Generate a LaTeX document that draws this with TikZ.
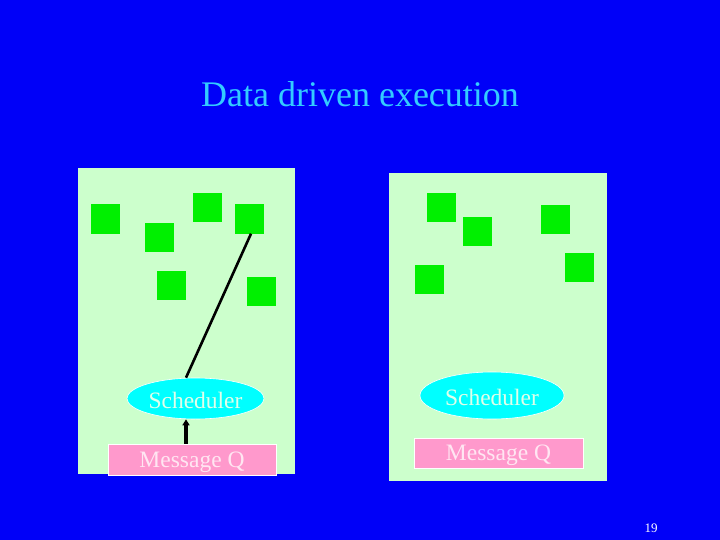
\documentclass[tikz,border=0pt]{standalone}
\usepackage{fontspec}
\setmainfont{Liberation Serif}
\usetikzlibrary{shapes.geometric,arrows.meta}
\definecolor{bgblue}{HTML}{0000F8}
\definecolor{panelgreen}{HTML}{CCFFCC}
\definecolor{sqgreen}{HTML}{00F000}
\definecolor{schedcyan}{HTML}{00FFFF}
\definecolor{msgpink}{HTML}{FF99CC}
\definecolor{titlecyan}{HTML}{33CCFF}
\definecolor{schedtext}{HTML}{E0FFEA}
\definecolor{msgtext}{HTML}{FFE6F2}
\tikzset{
  panel/.style={fill=panelgreen, draw=none},
  sq/.style={fill=sqgreen, draw=none, minimum width=29pt, minimum height=29pt, inner sep=0pt},
  sched/.style={ellipse, fill=schedcyan, draw=white, line width=0.6pt, inner sep=0pt, text height=19pt, text depth=0pt, text=schedtext, font=\fontsize{23.5}{26}\selectfont},
  msgq/.style={rectangle, fill=msgpink, draw=white, line width=0.6pt, inner sep=0pt, text height=16pt, text depth=0pt, text=msgtext, font=\fontsize{23.5}{26}\selectfont},
  conn/.style={draw=black, line width=2.6pt},
  arr/.style={draw=black, line width=3.6pt, -{Triangle[length=6pt,width=7pt]}}
}
\begin{document}
\begin{tikzpicture}[x=1pt,y=-1pt]
\fill[bgblue] (0,0) rectangle (720,540);
\useasboundingbox (0,0) rectangle (720,540);
\node[text=titlecyan, font=\fontsize{36}{40}\selectfont] (title) at (360,94) {Data driven execution};
% left panel
\node[panel, minimum width=217pt, minimum height=306pt, inner sep=0pt] (lp) at (186.5,321) {};
\node[sq] (l1) at (105.5,219) {};
\node[sq] (l2) at (159.5,237.5) {};
\node[sq] (l3) at (207.5,207.5) {};
\node[sq] (l4) at (249.5,219) {};
\node[sq] (l5) at (171.5,285) {};
\node[sq] (l6) at (261.5,291.5) {};
\node[sched, minimum width=137pt, minimum height=41pt] (ls) at (195.5,398.5) {Scheduler};
\node[msgq, minimum width=168pt, minimum height=31pt] (lm) at (192,459.5) {Message Q};
\draw[conn] (ls.north -| 186,0) -- (l4.south -| 251,0);
\draw[arr] (lm.north -| 186,0) -- (ls.south -| 186,0);
% right panel
\node[panel, minimum width=218pt, minimum height=308pt, inner sep=0pt] (rp) at (498,327) {};
\node[sq] (r1) at (441.5,207.5) {};
\node[sq] (r2) at (477.5,231.5) {};
\node[sq] (r3) at (555.5,219.5) {};
\node[sq] (r4) at (579.5,267.5) {};
\node[sq] (r5) at (429.5,279.5) {};
\node[sched, minimum width=144pt, minimum height=47pt] (rs) at (492,395.5) {Scheduler};
\node[msgq, minimum width=169pt, minimum height=30pt, text height=15pt] (rm) at (498.5,453) {Message Q};
\node[text=white, font=\fontsize{13}{15}\selectfont] (pg) at (651,528) {19};
\end{tikzpicture}
\end{document}
